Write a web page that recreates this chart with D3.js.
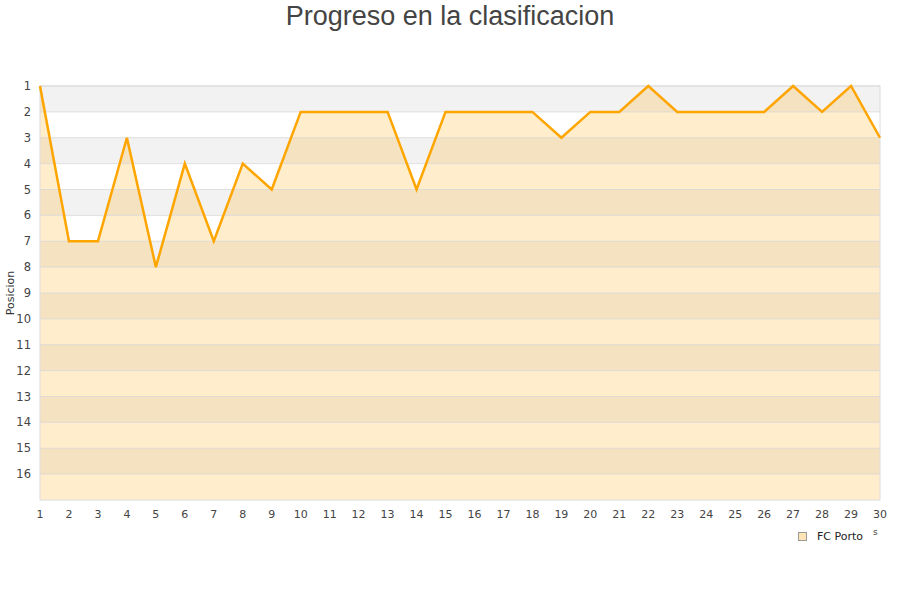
<!DOCTYPE html>
<html><head><meta charset="utf-8">
<script src="https://cdn.jsdelivr.net/npm/d3@7"></script>
<style>body{margin:0;background:#fff}svg{display:block}</style>
</head><body>
<svg id="c" width="900" height="600"></svg>
<script>
const jornadas = d3.range(1, 31);
const posiciones = [1,7,7,3,8,4,7,4,5,2,2,2,2,5,2,2,2,2,3,2,2,1,2,2,2,2,1,2,1,3];
const yTicks = d3.range(1, 17);
const title = "Progreso en la clasificacion";
const yTitle = "Posicion";
const seriesName = "FC Porto";

const svg = d3.select("#c");
const m = {l:40, r:880, t:86, b:500};
const x = d3.scaleLinear().domain([1,30]).range([m.l, m.r]);
const y = d3.scaleLinear().domain([1,17]).range([m.t, m.b]);

// stripes
const bands = d3.range(1, 17);
svg.append("g").selectAll("rect").data(bands).join("rect")
  .attr("x", m.l).attr("width", m.r - m.l)
  .attr("y", d => y(d)).attr("height", d => y(d+1) - y(d))
  .attr("fill", d => d % 2 === 1 ? "#f2f2f2" : "#ffffff");

// area
const data = jornadas.map((j,i) => ({j, p: posiciones[i]}));
svg.append("path").datum(data)
  .attr("d", d3.area().x(d => x(d.j)).y0(y(17)).y1(d => y(d.p)))
  .attr("fill", "rgba(255,165,0,0.2)");

// gridlines
svg.append("g").selectAll("line").data(yTicks).join("line")
  .attr("x1", m.l).attr("x2", m.r)
  .attr("y1", d => y(d)).attr("y2", d => y(d))
  .attr("stroke", "#d8d8d8").attr("stroke-opacity", 0.8).attr("stroke-width", 1);

// frame
svg.append("rect").attr("x", m.l).attr("y", m.t).attr("width", m.r-m.l).attr("height", m.b-m.t)
  .attr("fill", "none").attr("stroke", "#dcdcdc").attr("stroke-width", 1);

// line
svg.append("path").datum(data)
  .attr("d", d3.line().x(d => x(d.j)).y(d => y(d.p)))
  .attr("fill", "none").attr("stroke", "#ffa500").attr("stroke-width", 2.5)
  .attr("stroke-linejoin", "miter");

// axes labels
const font = "DejaVu Sans, sans-serif";
svg.append("g").selectAll("text").data(yTicks).join("text")
  .attr("x", 31).attr("y", d => y(d)).attr("dy", "0.35em")
  .attr("text-anchor", "end").attr("font-family", font).attr("font-size", 11.5)
  .attr("fill", "#444").text(d => d);

svg.append("g").selectAll("text").data(jornadas).join("text")
  .attr("x", d => x(d)).attr("y", 518)
  .attr("text-anchor", "middle").attr("font-family", font).attr("font-size", 11)
  .attr("fill", "#444").text(d => d);

svg.append("text").attr("transform", "translate(14,293) rotate(-90)")
  .attr("text-anchor", "middle").attr("font-family", font).attr("font-size", 11)
  .attr("fill", "#333").text(yTitle);

svg.append("text").attr("x", 450).attr("y", 25)
  .attr("text-anchor", "middle").attr("font-family", "Liberation Sans, Arial, sans-serif")
  .attr("font-size", 27).attr("fill", "#444").text(title);

// legend
svg.append("rect").attr("x", 798.5).attr("y", 532.5).attr("width", 8).attr("height", 8)
  .attr("fill", "#fde3b6").attr("stroke", "#999").attr("stroke-width", 1);
svg.append("text").attr("x", 817).attr("y", 540)
  .attr("font-family", font).attr("font-size", 11).attr("fill", "#222").text(seriesName);
svg.append("text").attr("x", 873).attr("y", 535)
  .attr("font-family", font).attr("font-size", 9).attr("fill", "#444").text("s");
</script>
</body></html>
